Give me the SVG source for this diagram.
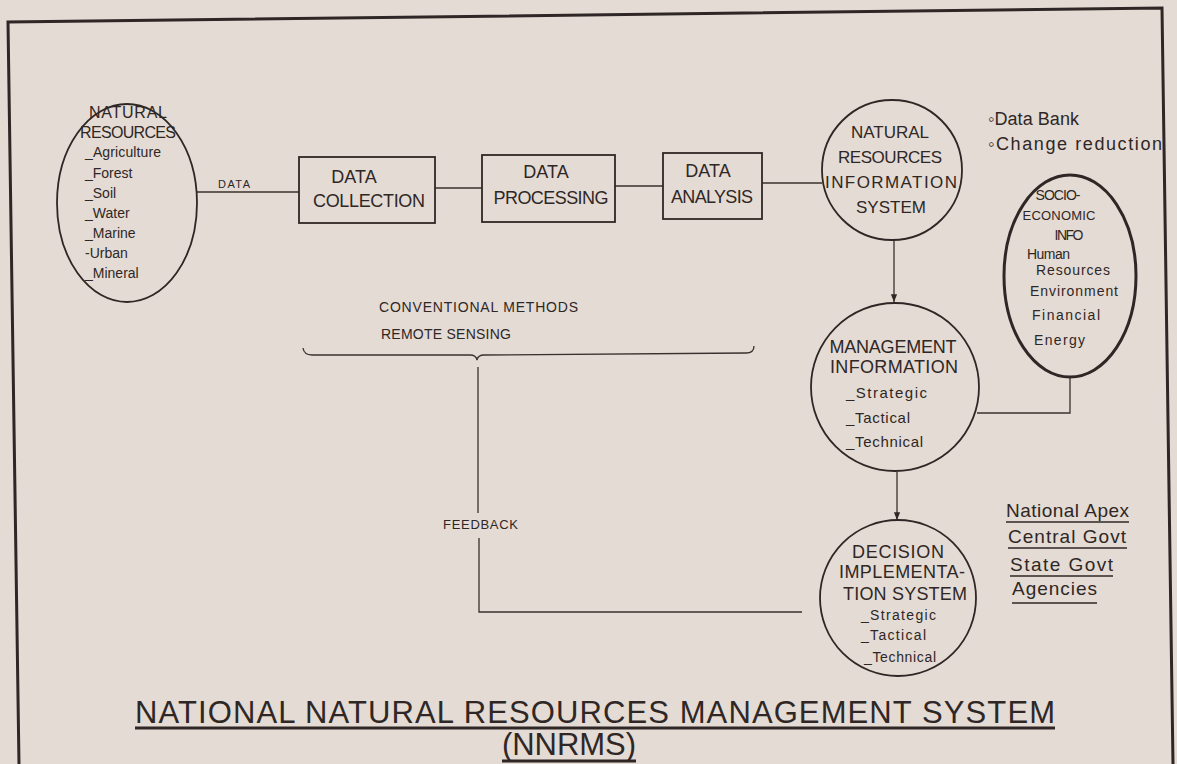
<svg xmlns="http://www.w3.org/2000/svg" width="1177" height="764" viewBox="0 0 1177 764">
<style>
text{font-family:"Liberation Sans","DejaVu Sans",sans-serif;fill:#2f2725}
.h{text-anchor:middle}
.ln{fill:none;stroke:#3a302d;stroke-width:1.3}
.shape{fill:none;stroke:#2f2725;stroke-width:1.8}
.ul{stroke:#2f2725;stroke-width:1.5}
</style>
<defs>
<marker id="arr" viewBox="0 0 10 10" refX="10" refY="5" markerWidth="6" markerHeight="6" orient="auto">
<path d="M0,1 L10,5 L0,9 z" fill="#2f2725"/>
</marker>
</defs>
<rect width="1177" height="764" fill="#e4dbd4"/>
<g id="border">
<path d="M19,764 L8,22 L1162,8 L1173,764" fill="none" stroke="#2f2725" stroke-width="3"/>
</g>
<g id="connectors">
<line class="ln" x1="197" y1="192" x2="299" y2="192"/>
<line class="ln" x1="435" y1="188" x2="482" y2="188"/>
<line class="ln" x1="615" y1="186" x2="663" y2="186"/>
<line class="ln" x1="762" y1="183" x2="822" y2="183"/>
<line class="ln" x1="894" y1="240" x2="894" y2="302" marker-end="url(#arr)"/>
<line class="ln" x1="897" y1="472" x2="897" y2="520" marker-end="url(#arr)"/>
<polyline class="ln" points="1070,377 1070,413 977,413"/>
<polyline class="ln" points="478,367 478,513"/>
<polyline class="ln" points="479,538 479,612 802,612"/>
<path class="ln" d="M303,348 Q304,355 312,355 L470,355 Q476,355 477,360 Q478,355 484,355 L746,353 Q754,353 754,346"/>
</g>
<g id="n-natural-resources">
<ellipse class="shape" cx="127" cy="203" rx="70" ry="99"/>
<text class="h" x="128" y="118" font-size="16" textLength="78">NATURAL</text>
<text class="h" x="128" y="138" font-size="16" textLength="96">RESOURCES</text>
<text x="85" y="157" font-size="14" textLength="76">_Agriculture</text>
<text x="85" y="178" font-size="14">_Forest</text>
<text x="85" y="198" font-size="14">_Soil</text>
<text x="85" y="218" font-size="14">_Water</text>
<text x="85" y="238" font-size="14">_Marine</text>
<text x="85" y="258" font-size="14">-Urban</text>
<text x="85" y="278" font-size="14">_Mineral</text>
</g>
<text x="218" y="188" font-size="11" textLength="32">DATA</text>
<g id="n-data-collection">
<rect class="shape" x="299" y="157" width="136" height="66"/>
<text class="h" x="354" y="183" font-size="18">DATA</text>
<text class="h" x="369" y="207" font-size="18" textLength="112">COLLECTION</text>
</g>
<g id="n-data-processing">
<rect class="shape" x="482" y="155" width="133" height="67"/>
<text class="h" x="546" y="178" font-size="18">DATA</text>
<text class="h" x="551" y="204" font-size="18" textLength="115">PROCESSING</text>
</g>
<g id="n-data-analysis">
<rect class="shape" x="663" y="153" width="99" height="66"/>
<text class="h" x="708" y="177" font-size="18">DATA</text>
<text class="h" x="712" y="203" font-size="18" textLength="82">ANALYSIS</text>
</g>
<g id="n-nris">
<circle class="shape" cx="892" cy="170" r="70"/>
<text class="h" x="890" y="138" font-size="17" textLength="78">NATURAL</text>
<text class="h" x="890" y="163" font-size="17" textLength="104">RESOURCES</text>
<text class="h" x="891" y="188" font-size="17" textLength="132">INFORMATION</text>
<text class="h" x="891" y="213" font-size="17" textLength="70">SYSTEM</text>
</g>
<g id="n-databank">
<text x="988" y="125" font-size="18" textLength="91">◦Data Bank</text>
<text x="988" y="150" font-size="18" textLength="174">◦Change reduction</text>
</g>
<g id="n-socio">
<ellipse cx="1070" cy="276" rx="66" ry="101" fill="none" stroke="#2f2725" stroke-width="3"/>
<text class="h" x="1058" y="200" font-size="14" textLength="45">SOCIO-</text>
<text class="h" x="1059" y="220" font-size="13" textLength="73">ECONOMIC</text>
<text class="h" x="1069" y="240" font-size="14" textLength="29">INFO</text>
<text x="1027" y="259" font-size="14" textLength="43">Human</text>
<text x="1036" y="275" font-size="14" textLength="74">Resources</text>
<text x="1030" y="296" font-size="14" textLength="88">Environment</text>
<text x="1032" y="320" font-size="14" textLength="68">Financial</text>
<text x="1034" y="345" font-size="14" textLength="51">Energy</text>
</g>
<g id="n-management">
<circle class="shape" cx="895" cy="387" r="84"/>
<text class="h" x="893" y="353" font-size="18" textLength="127">MANAGEMENT</text>
<text class="h" x="894" y="373" font-size="18" textLength="128">INFORMATION</text>
<text x="846" y="398" font-size="15" textLength="81">_Strategic</text>
<text x="846" y="423" font-size="15" textLength="64">_Tactical</text>
<text x="846" y="447" font-size="15" textLength="77">_Technical</text>
</g>
<g id="n-decision">
<circle class="shape" cx="898" cy="598" r="78"/>
<text class="h" x="898" y="558" font-size="18" textLength="92">DECISION</text>
<text class="h" x="902" y="578" font-size="18" textLength="126">IMPLEMENTA-</text>
<text class="h" x="905" y="600" font-size="18" textLength="124">TION SYSTEM</text>
<text x="861" y="620" font-size="14" textLength="75">_Strategic</text>
<text x="861" y="640" font-size="14" textLength="65">_Tactical</text>
<text x="864" y="662" font-size="14" textLength="72">_Technical</text>
</g>
<g id="n-methods">
<text x="379" y="312" font-size="14" textLength="199">CONVENTIONAL  METHODS</text>
<text x="381" y="339" font-size="14" textLength="130">REMOTE SENSING</text>
</g>
<text x="443" y="529" font-size="13" textLength="75">FEEDBACK</text>
<g id="n-levels">
<text x="1006" y="517" font-size="19" textLength="123">National Apex</text>
<line class="ul" x1="1006" y1="522" x2="1129" y2="522"/>
<text x="1008" y="543" font-size="19" textLength="118">Central Govt</text>
<line class="ul" x1="1008" y1="548" x2="1127" y2="548"/>
<text x="1010" y="571" font-size="19" textLength="103">State Govt</text>
<line class="ul" x1="1010" y1="576" x2="1113" y2="576"/>
<text x="1012" y="595" font-size="19" textLength="85">Agencies</text>
<line class="ul" x1="1012" y1="603" x2="1097" y2="603"/>
</g>
<g id="title">
<text x="135" y="723" font-size="31" textLength="920">NATIONAL NATURAL RESOURCES MANAGEMENT SYSTEM</text>
<line x1="135" y1="728" x2="1055" y2="728" stroke="#2f2725" stroke-width="3"/>
<text x="502" y="755" font-size="31" textLength="134">(NNRMS)</text>
<line x1="502" y1="761" x2="636" y2="761" stroke="#2f2725" stroke-width="3"/>
</g>
</svg>
